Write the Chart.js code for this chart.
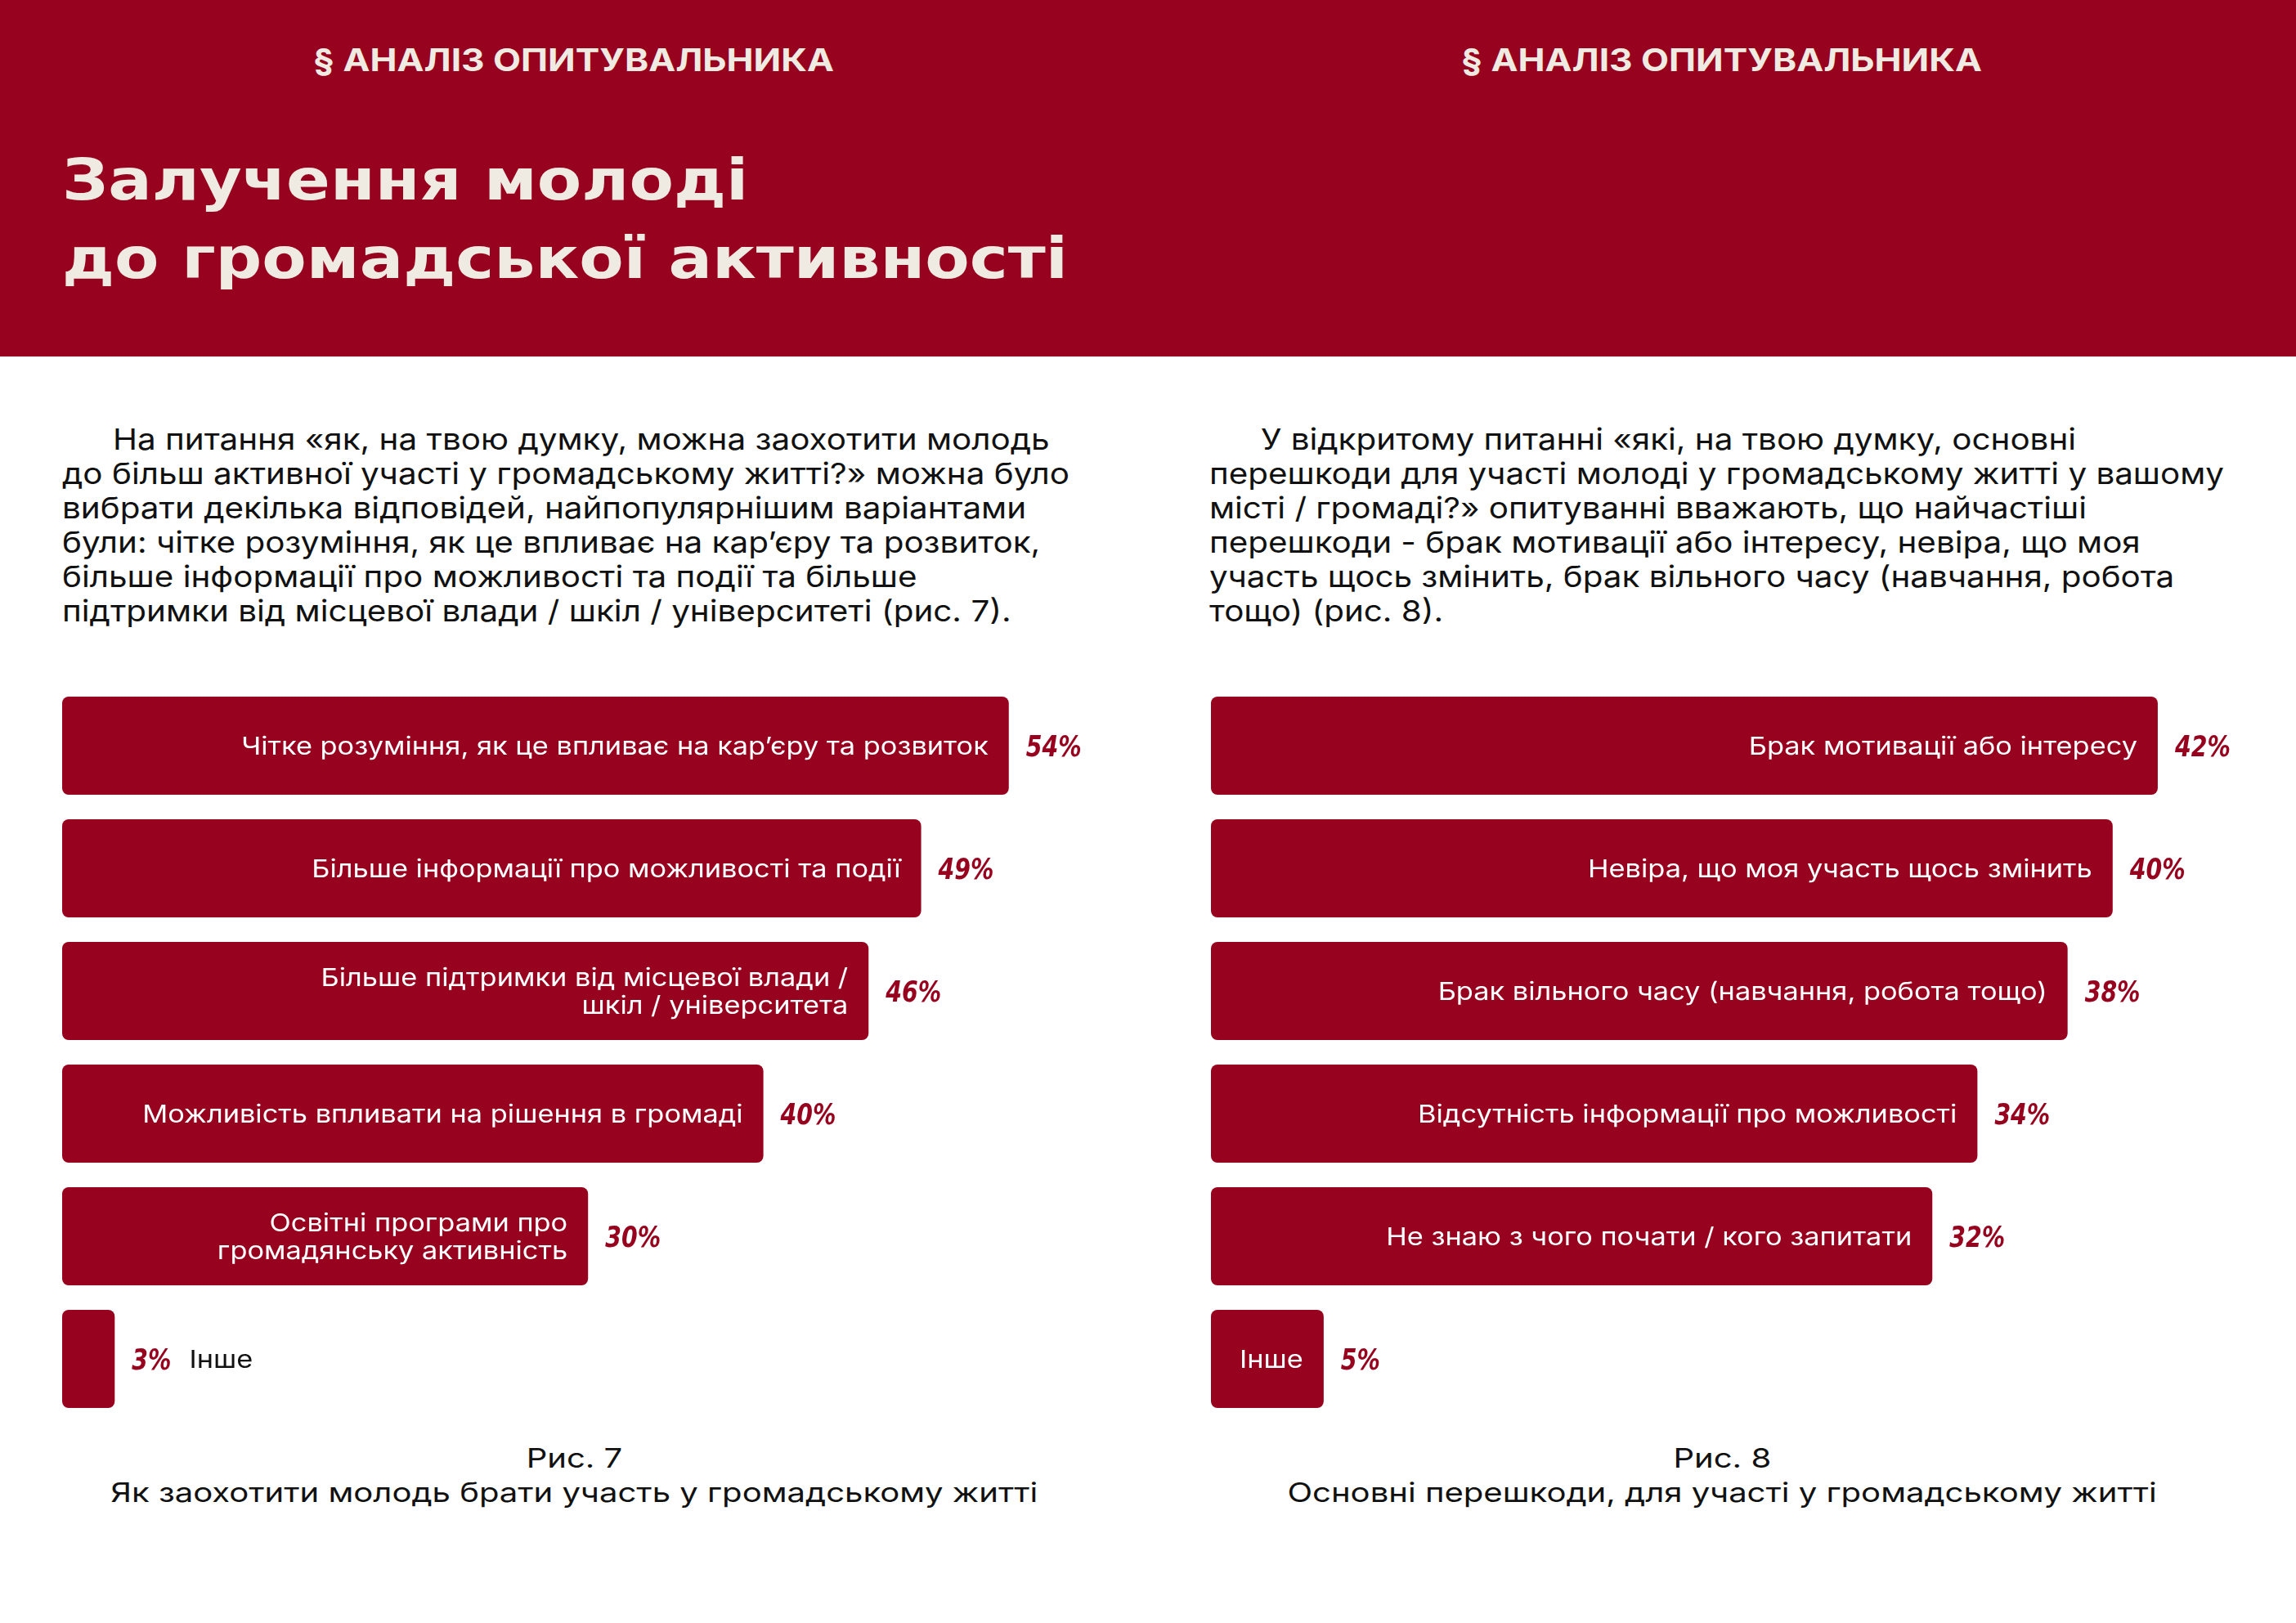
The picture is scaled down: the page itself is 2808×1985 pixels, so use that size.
<!DOCTYPE html>
<html><head><meta charset="utf-8">
<script src="https://cdn.jsdelivr.net/npm/chart.js@4.4.1/dist/chart.umd.min.js"></script>
<style>
html,body{margin:0;padding:0;background:#fff;width:2808px;height:1985px;overflow:hidden;}
#band{position:absolute;left:0;top:0;width:2808px;height:436px;background:#97031e;}
.t{position:absolute;white-space:nowrap;display:inline-block;}
.hdr{font-family:"Inter",sans-serif;font-weight:700;font-size:38.5px;line-height:38.5px;color:#efebe2;}
.ttl{font-family:"DejaVu Sans",sans-serif;font-weight:700;font-size:69px;line-height:69px;color:#efebe2;}
.par{font-family:"Inter",sans-serif;font-weight:400;font-size:36px;line-height:36px;color:#111;}
.cap{font-family:"Inter",sans-serif;font-weight:400;font-size:33px;line-height:33px;color:#111;}
canvas{position:absolute;}
</style></head><body>
<div id="band"></div>
<div id="page"></div>
<canvas id="c1" width="1300" height="900" style="left:76px;top:837px;width:1300px;height:900px"></canvas>
<canvas id="c2" width="1300" height="900" style="left:1481px;top:837px;width:1300px;height:900px"></canvas>
<script>
// ---------- DATA ----------
const leftCategories = [
  "Чітке розуміння, як це впливає на кар’єру та розвиток",
  "Більше інформації про можливості та події",
  ["Більше підтримки від місцевої влади /", "шкіл / університета"],
  "Можливість впливати на рішення в громаді",
  ["Освітні програми про", "громадянську активність"],
  "Інше"
];
const leftValues = [54, 49, 46, 40, 30, 3];

const rightCategories = [
  "Брак мотивації або інтересу",
  "Невіра, що моя участь щось змінить",
  "Брак вільного часу (навчання, робота тощо)",
  "Відсутність інформації про можливості",
  "Не знаю з чого почати / кого запитати",
  "Інше"
];
const rightValues = [42, 40, 38, 34, 32, 5];

const sectionHeader = "§ АНАЛІЗ ОПИТУВАЛЬНИКА";
const titleLines = ["Залучення молоді", "до громадської активності"];
const leftParagraph = [
  "На питання «як, на твою думку, можна заохотити молодь",
  "до більш активної участі у громадському житті?» можна було",
  "вибрати декілька відповідей, найпопулярнішим варіантами",
  "були: чітке розуміння, як це впливає на кар’єру та розвиток,",
  "більше інформації про можливості та події та більше",
  "підтримки від місцевої влади / шкіл / університеті (рис. 7)."
];
const rightParagraph = [
  "У відкритому питанні «які, на твою думку, основні",
  "перешкоди для участі молоді у громадському житті у вашому",
  "місті / громаді?» опитуванні вважають, що найчастіші",
  "перешкоди - брак мотивації або інтересу, невіра, що моя",
  "участь щось змінить, брак вільного часу (навчання, робота",
  "тощо) (рис. 8)."
];
const leftCaption = ["Рис. 7", "Як заохотити молодь брати участь у громадському житті"];
const rightCaption = ["Рис. 8", "Основні перешкоди, для участі у громадському житті"];

// ---------- STYLE ----------
const RED = "#97031e";
const page = document.getElementById('page');

function addText(txt, cls, x, capCenter, size, align) {
  const d = document.createElement('div');
  d.className = 't ' + cls;
  d.textContent = txt;
  d.style.top = (capCenter - size / 2) + 'px';
  page.appendChild(d);
  d._x = x; d._align = align || 'left';
  d._w = d.getBoundingClientRect().width;
  if (d._align === 'center') { d.style.left = (x - d._w / 2) + 'px'; d.style.transformOrigin = '50% 50%'; }
  else { d.style.left = x + 'px'; d.style.transformOrigin = '0 50%'; }
  return d;
}
function scaleFor(d, target) { return target / d._w; }
function applyScale(els, s) { els.forEach(e => { e.style.transform = 'scaleX(' + s + ')'; }); }

// headers
const h1 = addText(sectionHeader, 'hdr', 702, 73, 38.5, 'center');
const h2 = addText(sectionHeader, 'hdr', 2106, 73, 38.5, 'center');
applyScale([h1, h2], scaleFor(h1, 637));

// title
const t1 = addText(titleLines[0], 'ttl', 76, 220, 69);
const t2 = addText(titleLines[1], 'ttl', 76, 316, 69);
applyScale([t1, t2], scaleFor(t2, 1230));

// paragraphs
const lp = leftParagraph.map((s, i) => addText(s, 'par', i === 0 ? 138 : 76, 537 + 42 * i, 36));
applyScale(lp, scaleFor(lp[1], 1232));
const rp = rightParagraph.map((s, i) => addText(s, 'par', i === 0 ? 1542 : 1479, 537 + 42 * i, 36));
applyScale(rp, scaleFor(rp[1], 1241));

// captions
const lc = leftCaption.map((s, i) => addText(s, 'cap', 702, 1783 + 42 * i, 33, 'center'));
const rc = rightCaption.map((s, i) => addText(s, 'cap', 2106, 1783 + 42 * i, 33, 'center'));
applyScale(lc.concat(rc), scaleFor(lc[1], 1134));

// ---------- CHART LABEL PLUGIN ----------
const LABEL_FONT = '400 30px "Inter", sans-serif';
const LABEL_SIZE = 30;
const LABEL_STRETCH = 1.145;
const PCT_FONT = 'italic 700 35px "Liberation Sans Narrow", "DejaVu Sans Condensed", "Liberation Sans", sans-serif';
const barLabels = {
  id: 'barLabels',
  afterDatasetsDraw(chart) {
    const ctx = chart.ctx;
    const meta = chart.getDatasetMeta(0);
    const values = chart.data.datasets[0].data;
    const cats = chart.data.labels;
    meta.data.forEach((bar, i) => {
      const p = bar.getProps(['x', 'y', 'base'], true);
      const lines = Array.isArray(cats[i]) ? cats[i] : [cats[i]];
      ctx.save();
      // percentage
      ctx.font = PCT_FONT;
      ctx.fillStyle = RED;
      ctx.textAlign = 'left';
      ctx.textBaseline = 'alphabetic';
      const pctTxt = values[i] + '%';
      const pctX = p.x + 21;
      ctx.save();
      ctx.translate(pctX, p.y + 13);
      ctx.scale(0.9, 1);
      ctx.fillText(pctTxt, 0, 0);
      ctx.restore();
      const pctW = ctx.measureText(pctTxt).width * 0.9;
      // category label
      ctx.font = LABEL_FONT;
      const maxW = Math.max(...lines.map(l => ctx.measureText(l).width)) * LABEL_STRETCH;
      const lh = 34.5;
      const cap = LABEL_SIZE * 0.727;
      const inside = maxW + 50 <= (p.x - p.base);
      ctx.fillStyle = inside ? '#ffffff' : '#111111';
      ctx.textAlign = inside ? 'right' : 'left';
      const lx = inside ? p.x - 25 : pctX + pctW + 22;
      lines.forEach((l, k) => {
        const cy = p.y + (k - (lines.length - 1) / 2) * lh;
        ctx.save();
        ctx.translate(lx, cy + cap / 2);
        ctx.scale(LABEL_STRETCH, 1);
        ctx.fillText(l, 0, 0);
        ctx.restore();
      });
      ctx.restore();
    });
  }
};

function makeChart(id, cats, vals, maxVal) {
  return new Chart(document.getElementById(id), {
    type: 'bar',
    data: {
      labels: cats,
      datasets: [{
        data: vals,
        backgroundColor: RED,
        borderRadius: 8,
        borderSkipped: false,
        categoryPercentage: 1,
        barPercentage: 0.8
      }]
    },
    options: {
      indexAxis: 'y',
      responsive: false,
      animation: false,
      devicePixelRatio: 1,
      layout: { padding: 0 },
      plugins: { legend: { display: false }, tooltip: { enabled: false } },
      scales: {
        x: { display: false, min: 0, max: maxVal },
        y: { display: false }
      }
    },
    plugins: [barLabels]
  });
}
makeChart('c1', leftCategories, leftValues, 1300 / 21.44);
makeChart('c2', rightCategories, rightValues, 1300 / 27.57);
</script>
</body></html>
